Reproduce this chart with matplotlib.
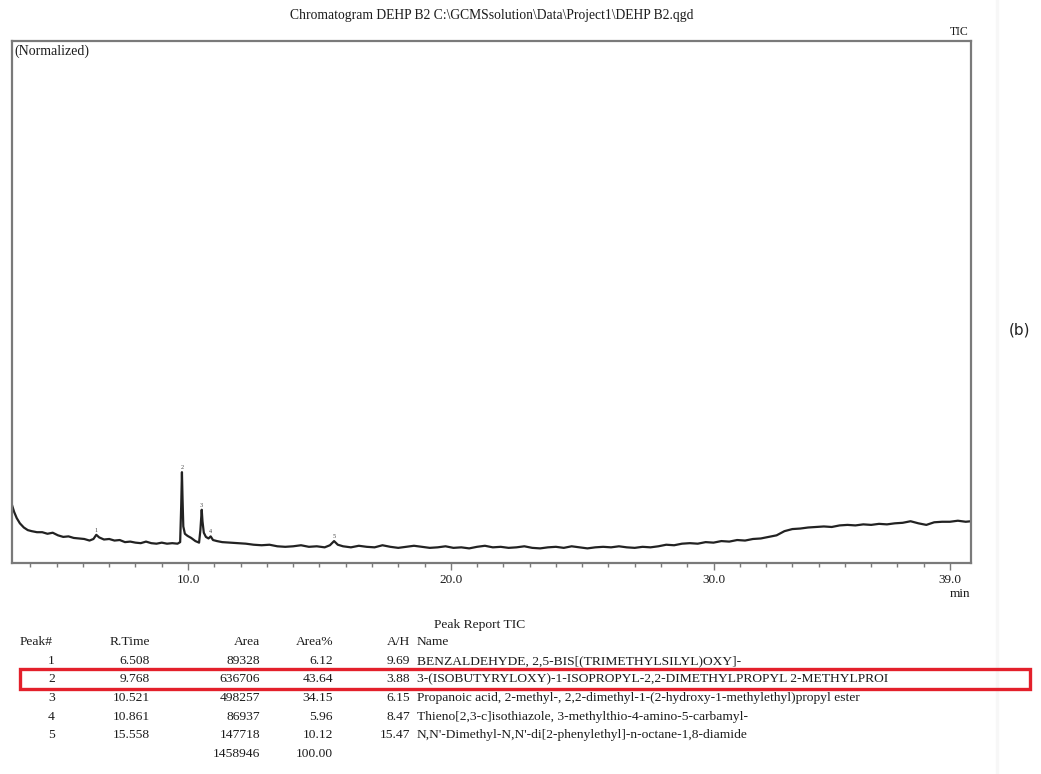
import matplotlib
matplotlib.use("Agg")
import matplotlib.pyplot as plt
from matplotlib.patches import Rectangle
from matplotlib.ticker import FixedLocator, MultipleLocator
import numpy as np

plt.rcParams["font.family"] = ["Liberation Serif", "DejaVu Serif"]

# TIC trace, retention time (min) vs normalized intensity
rt = [3.30, 3.38, 3.48, 3.60, 3.75, 3.90, 4.05, 4.25, 4.45, 4.65, 4.85, 5.05, 5.25, 5.45,
      5.65, 5.85, 6.05, 6.25, 6.40, 6.508, 6.62, 6.80, 7.00, 7.20, 7.40, 7.60, 7.80, 8.00,
      8.20, 8.40, 8.60, 8.80, 9.00, 9.20, 9.40, 9.60, 9.70, 9.74, 9.768, 9.79, 9.82, 9.88,
      9.98, 10.12, 10.28, 10.42, 10.47, 10.521, 10.55, 10.60, 10.68, 10.78, 10.861, 10.95,
      11.10, 11.30, 11.60, 11.90, 12.20, 12.50, 12.80, 13.10, 13.40, 13.70, 14.00, 14.30,
      14.60, 14.90, 15.20, 15.40, 15.558, 15.70, 15.90, 16.20, 16.50, 16.80, 17.10, 17.40,
      17.70, 18.00, 18.30, 18.60, 18.90, 19.20, 19.50, 19.80, 20.10, 20.40, 20.70, 21.00,
      21.30, 21.60, 21.90, 22.20, 22.50, 22.80, 23.10, 23.40, 23.70, 24.00, 24.30, 24.60,
      24.90, 25.20, 25.50, 25.80, 26.10, 26.40, 26.70, 27.00, 27.30, 27.60, 27.90, 28.20,
      28.50, 28.80, 29.10, 29.40, 29.70, 30.00, 30.30, 30.60, 30.90, 31.20, 31.50, 31.80,
      32.10, 32.40, 32.70, 33.00, 33.30, 33.60, 33.90, 34.20, 34.50, 34.80, 35.10, 35.40,
      35.70, 36.00, 36.30, 36.60, 36.90, 37.20, 37.50, 37.80, 38.10, 38.40, 38.70, 39.00,
      39.30, 39.60, 39.80]
tic = [11.1, 9.8, 8.6, 7.6, 6.8, 6.3, 6.1, 5.9, 5.9, 5.6, 5.8, 5.3, 5.0, 5.1,
       4.8, 4.7, 4.6, 4.3, 4.6, 5.4, 4.9, 4.5, 4.6, 4.3, 4.4, 4.0, 4.1, 3.9,
       3.8, 4.1, 3.8, 3.7, 3.9, 3.7, 3.8, 3.7, 4.0, 11.0, 17.4, 12.5, 7.0, 5.6,
       5.2, 4.8, 4.2, 3.9, 6.3, 10.2, 8.0, 5.8, 5.0, 4.7, 5.1, 4.4,
       4.2, 4.0, 3.9, 3.8, 3.7, 3.5, 3.4, 3.5, 3.2, 3.1, 3.2, 3.4,
       3.1, 3.2, 3.0, 3.4, 4.2, 3.5, 3.2, 3.0, 3.3, 3.1, 3.0, 3.4,
       3.1, 2.9, 3.1, 3.3, 3.1, 2.9, 3.0, 3.2, 2.9, 3.0, 2.8, 3.1,
       3.3, 3.0, 3.1, 2.9, 3.0, 3.2, 2.9, 2.8, 3.0, 3.1, 2.9, 3.2,
       3.0, 2.8, 3.0, 3.1, 3.0, 3.2, 3.0, 2.9, 3.1, 3.0, 3.2, 3.5,
       3.4, 3.7, 3.8, 3.7, 4.0, 3.9, 4.2, 4.1, 4.4, 4.3, 4.6, 4.7,
       5.0, 5.3, 6.1, 6.5, 6.6, 6.8, 6.9, 7.0, 6.9, 7.2, 7.3, 7.2,
       7.4, 7.3, 7.5, 7.4, 7.6, 7.7, 8.0, 7.6, 7.3, 7.8, 7.9, 7.9,
       8.1, 7.9, 8.0]

# peak report
peak_no = ["1", "2", "3", "4", "5"]
peak_rt = [6.508, 9.768, 10.521, 10.861, 15.558]
peak_area = [89328, 636706, 498257, 86937, 147718]
peak_area_pct = ["6.12", "43.64", "34.15", "5.96", "10.12"]
peak_ah = ["9.69", "3.88", "6.15", "8.47", "15.47"]
peak_name = [
    "BENZALDEHYDE, 2,5-BIS[(TRIMETHYLSILYL)OXY]-",
    "3-(ISOBUTYRYLOXY)-1-ISOPROPYL-2,2-DIMETHYLPROPYL 2-METHYLPROI",
    "Propanoic acid, 2-methyl-, 2,2-dimethyl-1-(2-hydroxy-1-methylethyl)propyl ester",
    "Thieno[2,3-c]isothiazole, 3-methylthio-4-amino-5-carbamyl-",
    "N,N'-Dimethyl-N,N'-di[2-phenylethyl]-n-octane-1,8-diamide",
]
total_area = "1458946"
total_pct = "100.00"

W, H = 1041, 774
ink = "#1c1c1c"
frame = "#7a7a7a"
fs = 9.7  # report font size

fig = plt.figure(figsize=(W / 100, H / 100), dpi=100)

# faint scan edge on the right
fig.add_artist(plt.Line2D([997 / W, 997 / W], [0, 1], color="#f7f7f7", lw=2.5, zorder=0))

ax = fig.add_axes([12 / W, 1 - 563 / H, 959 / W, 522 / H])
ax.plot(rt, tic, color="#222222", lw=1.6)
ax.set_xlim(3.3, 39.8)
ax.set_ylim(0, 100)

for s in ax.spines.values():
    s.set_color(frame)
    s.set_linewidth(1.6)

ax.xaxis.set_major_locator(FixedLocator([10, 20, 30, 39]))
ax.xaxis.set_minor_locator(MultipleLocator(1))
ax.set_xticklabels(["10.0", "20.0", "30.0", "39.0"])
ax.tick_params(axis="x", which="major", direction="out", length=5, width=1,
               color=frame, labelsize=9.5, labelcolor=ink, pad=3)
ax.tick_params(axis="x", which="minor", direction="out", length=3, width=1, color=frame)
ax.tick_params(axis="y", left=False, labelleft=False)

# peak numbers above each apex
heights = np.interp(peak_rt, rt, tic)
for n, x, y in zip(peak_no, peak_rt, heights):
    ax.text(x, y + 0.4, n, fontsize=4.5, color="#444444", ha="center", va="bottom")

ax.text(0.002, 0.993, "(Normalized)", transform=ax.transAxes, fontsize=10,
        color=ink, ha="left", va="top")

fig.text(492 / W, 1 - 16 / H,
         "Chromatogram DEHP B2 C:\\GCMSsolution\\Data\\Project1\\DEHP B2.qgd",
         fontsize=9.8, color=ink, ha="center", va="center")
fig.text(969 / W, 1 - 32 / H, "TIC", fontsize=8.5, color=ink, ha="right", va="center")
fig.text(970 / W, 1 - 594 / H, "min", fontsize=9.5, color=ink, ha="right", va="center")

# peak report table
def row_y(px):
    return 1 - px / H

fig.text(480 / W, row_y(625), "Peak Report TIC", fontsize=fs, color=ink,
         ha="center", va="center")
header_y = row_y(642)
fig.text(53 / W, header_y, "Peak#", fontsize=fs, color=ink, ha="right", va="center")
fig.text(150 / W, header_y, "R.Time", fontsize=fs, color=ink, ha="right", va="center")
fig.text(260 / W, header_y, "Area", fontsize=fs, color=ink, ha="right", va="center")
fig.text(333 / W, header_y, "Area%", fontsize=fs, color=ink, ha="right", va="center")
fig.text(410 / W, header_y, "A/H", fontsize=fs, color=ink, ha="right", va="center")
fig.text(417 / W, header_y, "Name", fontsize=fs, color=ink, ha="left", va="center")

rows_px = [661, 679, 698, 717, 735]
for i in range(len(peak_no)):
    y = row_y(rows_px[i])
    fig.text(55 / W, y, peak_no[i], fontsize=fs, color=ink, ha="right", va="center")
    fig.text(150 / W, y, "%.3f" % peak_rt[i], fontsize=fs, color=ink, ha="right", va="center")
    fig.text(260 / W, y, str(peak_area[i]), fontsize=fs, color=ink, ha="right", va="center")
    fig.text(333 / W, y, peak_area_pct[i], fontsize=fs, color=ink, ha="right", va="center")
    fig.text(410 / W, y, peak_ah[i], fontsize=fs, color=ink, ha="right", va="center")
    fig.text(417 / W, y, peak_name[i], fontsize=fs, color=ink, ha="left", va="center")

fig.text(260 / W, row_y(754), total_area, fontsize=fs, color=ink, ha="right", va="center")
fig.text(333 / W, row_y(754), total_pct, fontsize=fs, color=ink, ha="right", va="center")

# highlight on peak 2
fig.add_artist(Rectangle((20 / W, 1 - 689 / H), 1010 / W, 20 / H, transform=fig.transFigure,
                         fill=False, edgecolor="#e3202b", lw=2.4, zorder=3))

fig.text(1020 / W, 1 - 330 / H, "(b)", fontsize=11, color="#222222",
         family="DejaVu Sans", ha="center", va="center")

fig.savefig("out.png", dpi=100)
